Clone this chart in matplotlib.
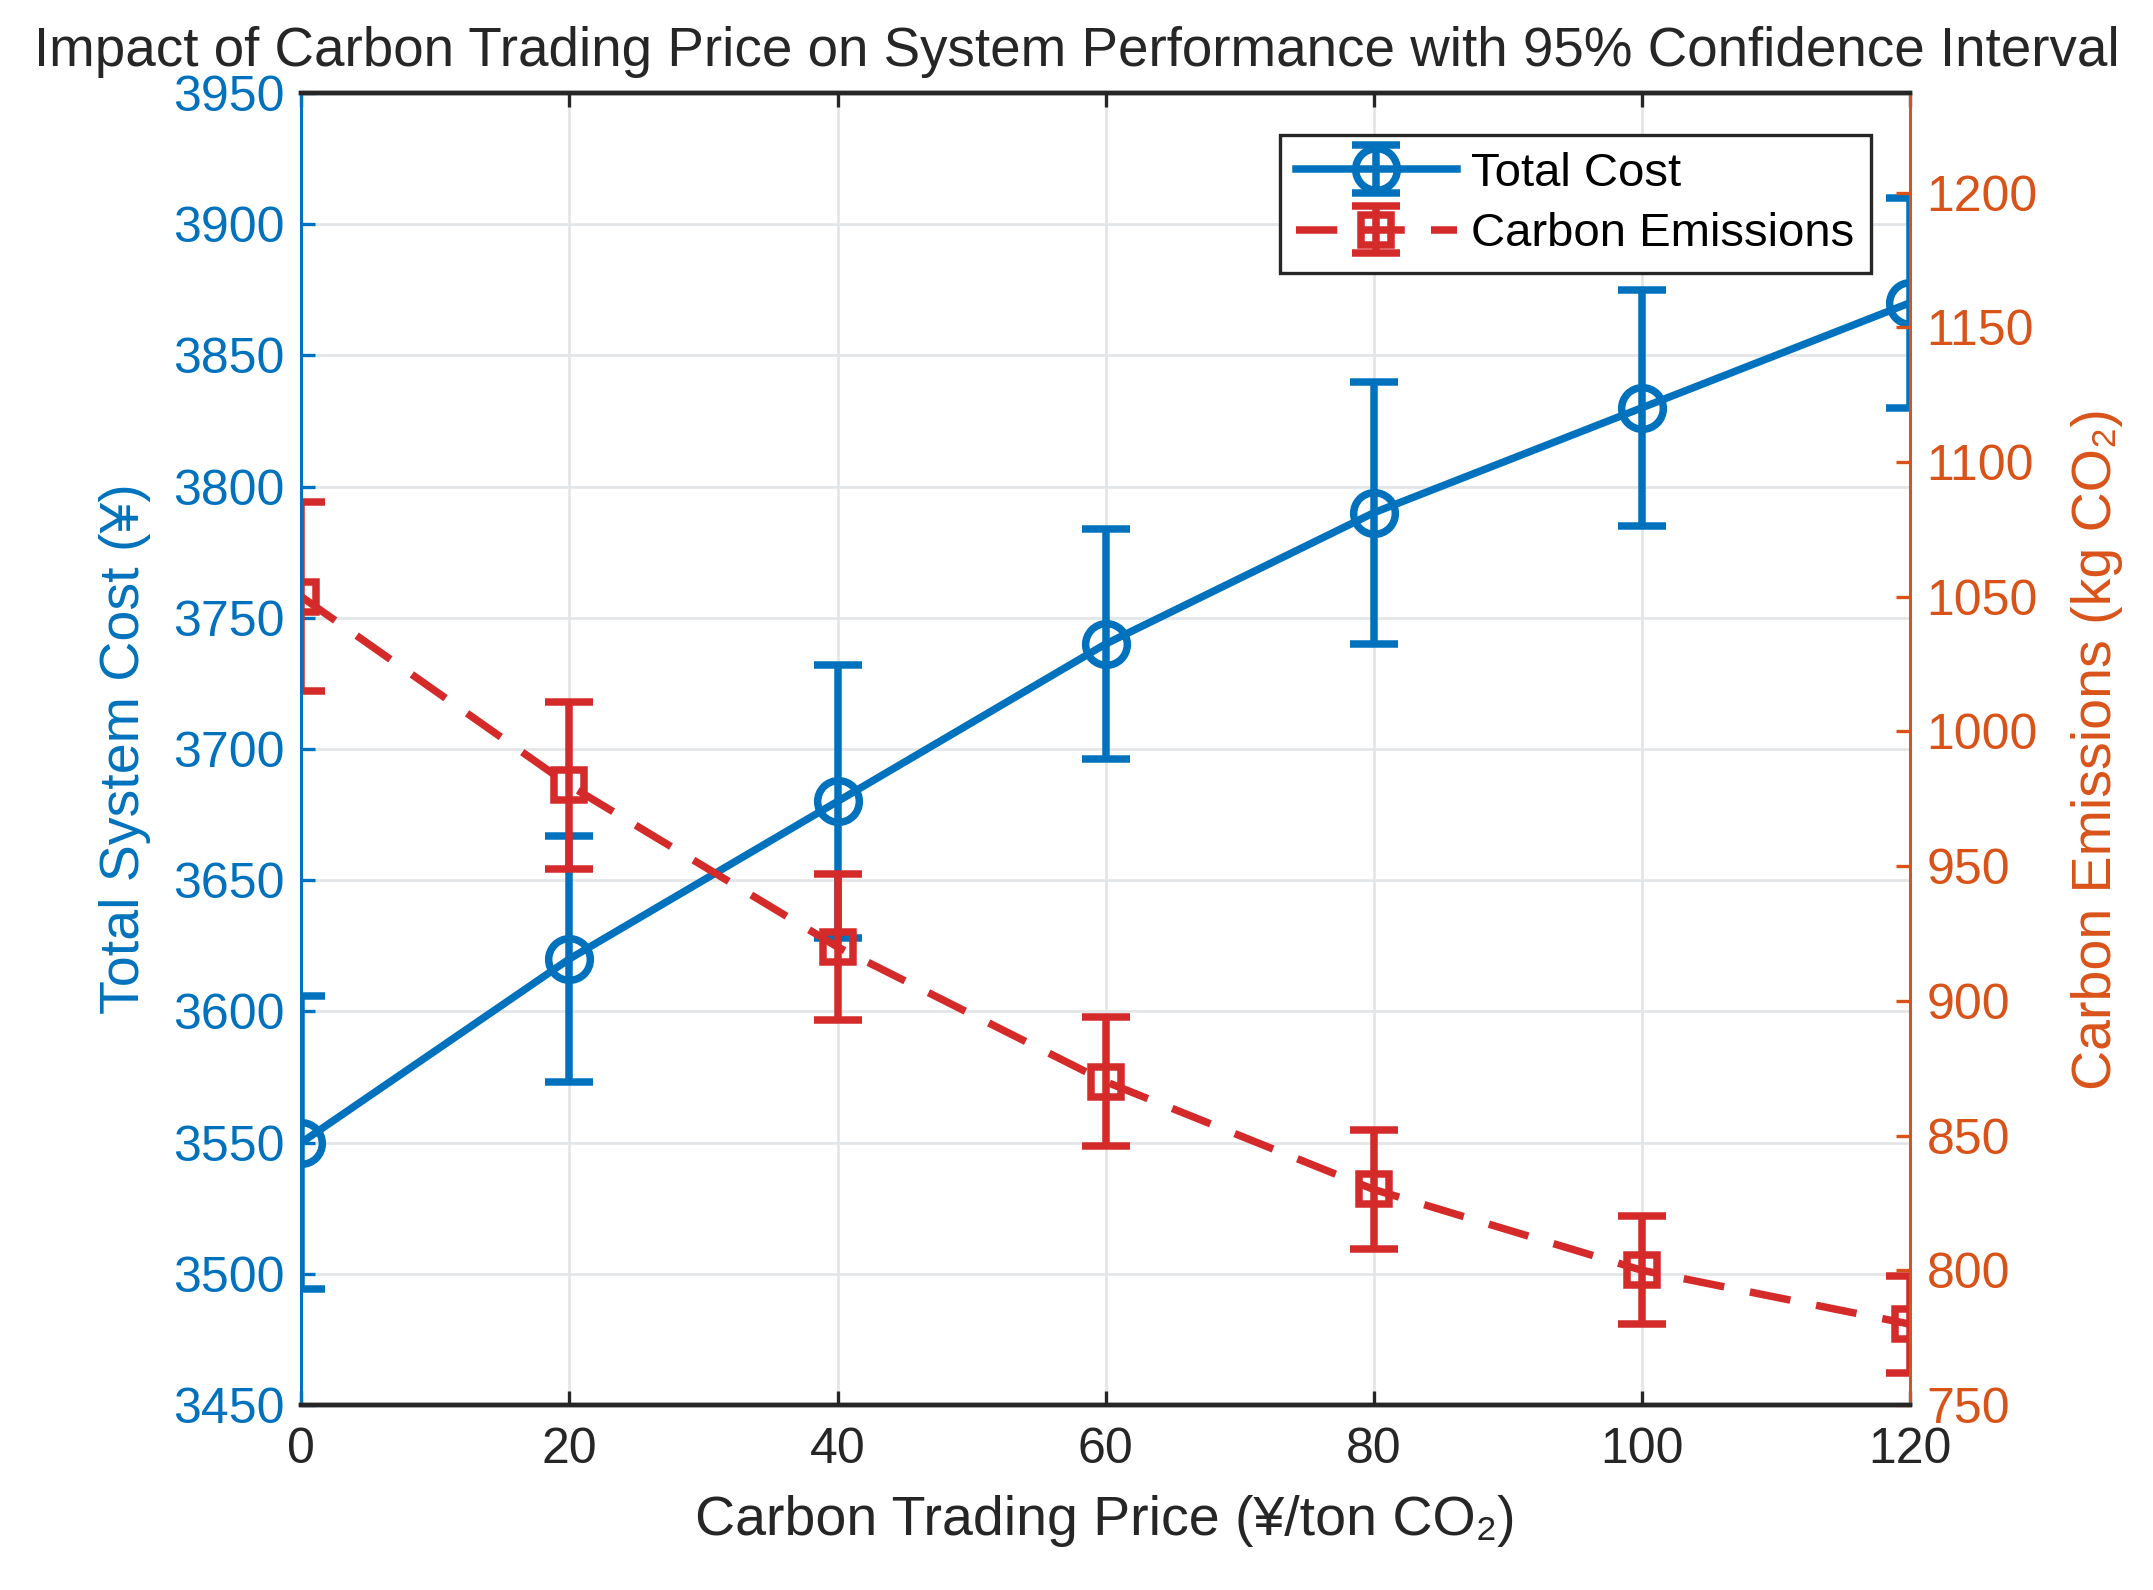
import numpy as np
import matplotlib.pyplot as plt

plt.rcParams['font.family'] = ['Liberation Sans', 'DejaVu Sans']

price = [0, 20, 40, 60, 80, 100, 120]
total_cost = [3550, 3620, 3680, 3740, 3790, 3830, 3870]
cost_ci = [56, 47, 52, 44, 50, 45, 40]
emissions = [1050, 980, 920, 870, 830, 800, 780]
emis_ci = [35, 31, 27, 24, 22, 20, 18]

blue = '#0072BD'
red = '#D42A2A'
orange = '#D95319'
dark = '#262626'

fig = plt.figure(figsize=(10.765, 7.95), dpi=200)
ax = fig.add_axes([0.140, 0.1164, 0.747, 0.8251])
ax2 = ax.twinx()

h1 = ax.errorbar(price, total_cost, yerr=cost_ci, color=blue, lw=2.7,
                 marker='o', ms=15, mfc='none', mew=2.7,
                 capsize=8.8, capthick=2.7, elinewidth=2.7, label='Total Cost')
h2 = ax2.errorbar(price, emissions, yerr=emis_ci, color=red, lw=2.7,
                  ls=(0, (5.5, 3.5)), marker='s', ms=11, mfc='none', mew=2.7,
                  capsize=8.8, capthick=2.7, elinewidth=2.7,
                  label='Carbon Emissions')

ax.set_xlim(0, 120)
ax.set_xticks(np.arange(0, 121, 20))
ax.set_ylim(3450, 3950)
ax.set_yticks(np.arange(3450, 3951, 50))
ax2.set_ylim(750, 1237)
ax2.set_yticks(np.arange(750, 1201, 50))

ax.grid(True, color='#e3e6e8', lw=1.0)
ax.set_axisbelow(True)

ax.tick_params(axis='x', direction='in', length=5, width=1.2, colors=dark,
               labelsize=18, top=True, pad=8)
ax.tick_params(axis='y', direction='in', length=5, width=1.2, colors=blue,
               labelsize=18, pad=6)
ax2.tick_params(axis='y', direction='in', length=5, width=1.2, colors=orange,
                labelsize=18, pad=6)

for a in (ax, ax2):
    a.spines['top'].set_color(dark)
    a.spines['bottom'].set_color(dark)
    a.spines['top'].set_linewidth(1.6)
    a.spines['bottom'].set_linewidth(1.6)
    a.spines['left'].set_color(blue)
    a.spines['right'].set_color(orange)
    a.spines['left'].set_linewidth(1.0)
    a.spines['right'].set_linewidth(1.0)

ax.set_xlabel('Carbon Trading Price (¥/ton CO₂)', fontsize=20, color=dark,
              labelpad=8)
ax.set_ylabel('Total System Cost (¥)', fontsize=20, color=blue, labelpad=8)
ax2.set_ylabel('Carbon Emissions (kg CO₂)', fontsize=20, color=orange,
               labelpad=12)
fig.text(0.5, 0.9585,
         'Impact of Carbon Trading Price on System Performance with 95% Confidence Interval',
         fontsize=19.7, color=dark, ha='center', va='baseline')

leg = ax2.legend([h1, h2], ['Total Cost', 'Carbon Emissions'],
                 loc='upper right', bbox_to_anchor=(0.9757, 0.968),
                 borderaxespad=0, fontsize=17, fancybox=False,
                 edgecolor=dark, framealpha=1, handlelength=3.4,
                 handletextpad=0.3, borderpad=0.35, labelspacing=0.35)
leg.get_frame().set_linewidth(1.2)

fig.savefig('out.png', dpi=200)
